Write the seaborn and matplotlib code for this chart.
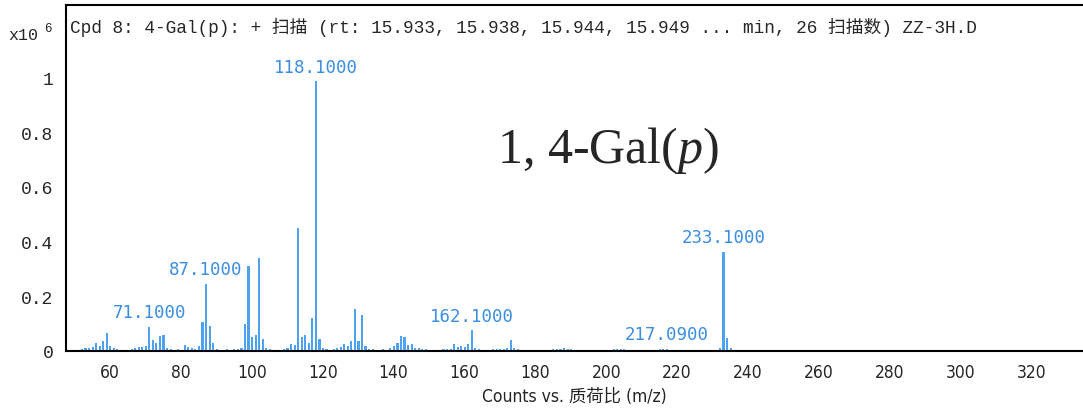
import matplotlib
matplotlib.use('Agg')
import matplotlib.pyplot as plt
import seaborn as sns
import pandas as pd

# m/z positions (integer + 0.1) and counts in units of 1e6
mz_int = [50, 51, 52, 53, 54, 55, 56, 57, 58, 59, 60, 61, 62, 63, 64, 65, 66, 67, 68, 69,
          70, 71, 72, 73, 74, 75, 76, 77, 78, 79, 80, 81, 82, 83, 84, 85, 86, 87, 88, 89,
          90, 91, 92, 93, 94, 95, 96, 97, 98, 99, 100, 101, 102, 103, 104, 105, 106, 107, 108, 109,
          110, 111, 112, 113, 114, 115, 116, 117, 118, 119, 120, 121, 122, 123, 124, 125, 126, 127, 128, 129,
          130, 131, 132, 133, 134, 135, 136, 137, 138, 139, 140, 141, 142, 143, 144, 145, 146, 147, 148, 149,
          150, 151, 152, 153, 154, 155, 156, 157, 158, 159, 160, 161, 162, 163, 164, 165, 166, 167, 168, 169,
          170, 171, 172, 173, 174, 175, 176, 177, 185, 186, 187, 188, 189, 190, 191, 199,
          201, 202, 203, 204, 205, 206, 207, 213, 215, 216, 217, 218, 222, 231, 232, 233, 234, 235, 236,
          245, 255, 262, 275, 281, 290]
counts = [0.004, 0.003, 0.006, 0.010, 0.012, 0.016, 0.030, 0.020, 0.035, 0.065, 0.020, 0.012, 0.006, 0.004, 0.003, 0.004, 0.006, 0.010, 0.014, 0.016,
          0.020, 0.088, 0.040, 0.030, 0.055, 0.060, 0.012, 0.006, 0.004, 0.006, 0.005, 0.022, 0.014, 0.012, 0.008, 0.020, 0.105, 0.245, 0.090, 0.030,
          0.008, 0.005, 0.004, 0.006, 0.004, 0.006, 0.008, 0.012, 0.098, 0.310, 0.050, 0.060, 0.340, 0.045, 0.012, 0.006, 0.004, 0.003, 0.004, 0.006,
          0.012, 0.025, 0.022, 0.450, 0.050, 0.060, 0.030, 0.120, 0.985, 0.045, 0.012, 0.006, 0.004, 0.006, 0.010, 0.015, 0.025, 0.020, 0.035, 0.155,
          0.035, 0.130, 0.020, 0.006, 0.006, 0.004, 0.004, 0.006, 0.004, 0.012, 0.018, 0.030, 0.055, 0.050, 0.022, 0.025, 0.012, 0.010, 0.008, 0.008,
          0.004, 0.004, 0.003, 0.004, 0.006, 0.008, 0.006, 0.025, 0.015, 0.020, 0.015, 0.025, 0.075, 0.010, 0.006, 0.004, 0.003, 0.004, 0.006, 0.006,
          0.006, 0.008, 0.012, 0.040, 0.012, 0.008, 0.004, 0.003, 0.006, 0.008, 0.008, 0.010, 0.008, 0.006, 0.005, 0.003,
          0.005, 0.006, 0.006, 0.008, 0.006, 0.004, 0.003, 0.005, 0.006, 0.008, 0.009, 0.004, 0.003, 0.004, 0.010, 0.362, 0.047, 0.012, 0.004,
          0.003, 0.002, 0.002, 0.002, 0.002, 0.005]

label_mz = [71, 87, 118, 162, 217, 233]
label_text = ['71.1000', '87.1000', '118.1000', '162.1000', '217.0900', '233.1000']

x_ticks = [60, 80, 100, 120, 140, 160, 180, 200, 220, 240, 260, 280, 300, 320]
y_ticks = [0, 0.2, 0.4, 0.6, 0.8, 1.0]
y_tick_labels = ['0', '0.2', '0.4', '0.6', '0.8', '1']

title = 'Cpd 8: 4-Gal(p): + 扫描 (rt: 15.933, 15.938, 15.944, 15.949 ... min, 26 扫描数) ZZ-3H.D'
xlabel = 'Counts vs. 质荷比 (m/z)'

bar_color = '#4fa2f0'
text_color = '#3b8ee0'
mono = ['Liberation Mono', 'Noto Sans CJK SC']
sans = ['DejaVu Sans', 'Noto Sans CJK SC']

sns.set_style('white')
plt.rcParams['mathtext.fontset'] = 'custom'
plt.rcParams['mathtext.rm'] = 'Liberation Serif'
plt.rcParams['mathtext.it'] = 'Liberation Serif:italic'

df = pd.DataFrame({'mz': [m + 0.1 for m in mz_int], 'counts': counts})

fig = plt.figure(figsize=(10.83, 4.10), dpi=100)
ax = fig.add_axes([66 / 1083, 58 / 410, 1 - 66 / 1083, (352 - 6) / 410])

sns.barplot(data=df, x='mz', y='counts', native_scale=True, width=0.6,
            color=bar_color, saturation=1, linewidth=0, errorbar=None, ax=ax)

# peak labels
lookup = dict(zip(mz_int, counts))
for m, t in zip(label_mz, label_text):
    ax.annotate(t, (m + 0.1, lookup[m]), xytext=(0, 4), textcoords='offset points',
                ha='center', va='bottom', color=text_color, fontsize=12.5, family='DejaVu Sans Mono')

ax.set_xlim(47.6, 334.5)
ax.set_ylim(0, 1.264)
ax.set_xticks(x_ticks, labels=[str(t) for t in x_ticks], family='DejaVu Sans',
              fontstretch='condensed', fontsize=12.5)
ax.set_yticks(y_ticks, labels=y_tick_labels, family='Liberation Mono', fontsize=13)
ax.tick_params(axis='both', direction='out', length=5, width=1.2, color='black', pad=4)
ax.set_xlabel(xlabel, family=sans, fontstretch='condensed', fontsize=12.5, labelpad=4)
ax.set_ylabel('')

for side in ['left', 'bottom', 'top']:
    ax.spines[side].set_color('black')
    ax.spines[side].set_linewidth(1.5)
ax.spines['right'].set_visible(False)

# header inside the frame
fig.text(70 / 1083, 1 - 27 / 410, title, ha='left', va='center', fontsize=12.8, family=mono)
fig.text(8 / 1083, 1 - 35 / 410, 'x10', ha='left', va='center', fontsize=12, family='Liberation Mono')
fig.text(44 / 1083, 1 - 29 / 410, '6', ha='left', va='center', fontsize=9, family='Liberation Mono')

# compound name
fig.text(497 / 1083, 1 - 163 / 410, r'1, 4-Gal($\mathit{p}$)', ha='left', va='baseline',
         fontsize=36, family='Liberation Serif')

fig.savefig('out.png', dpi=100)
